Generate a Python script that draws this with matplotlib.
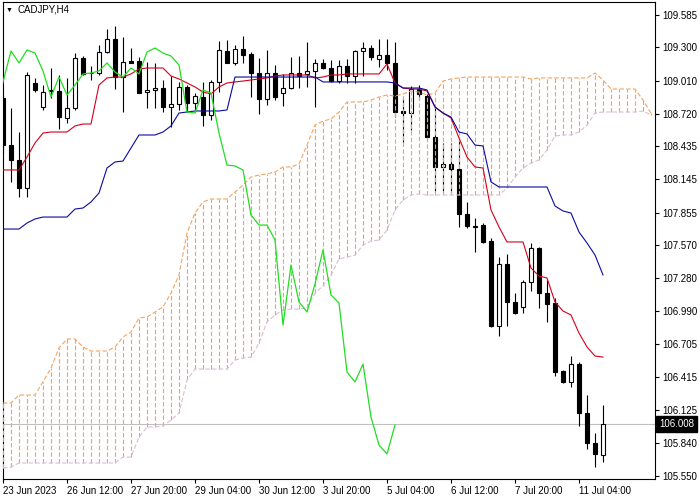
import matplotlib
matplotlib.use("Agg")
import matplotlib.pyplot as plt
import matplotlib.transforms as mtransforms
import numpy as np

plt.rcParams['font.family'] = ['Liberation Sans', 'DejaVu Sans']
plt.rcParams['lines.scale_dashes'] = False

# CADJPY H4 candles
opens = [108.858, 108.446, 108.315, 108.070, 108.989, 108.779, 108.928, 108.919, 108.683, 108.770,
         109.208, 109.076, 109.076, 109.260, 109.374, 109.041, 109.181, 109.181, 108.910, 108.928,
         108.945, 108.779, 108.805, 108.954, 108.814, 108.866, 108.709, 108.998, 109.269, 109.164,
         109.286, 109.243, 109.076, 108.849, 109.076, 108.901, 108.945, 109.076, 109.068, 109.094,
         109.164, 109.120, 109.006, 109.138, 109.050, 109.269, 109.295, 109.199, 109.234, 109.164,
         108.744, 108.726, 108.936, 108.875, 108.516, 108.254, 108.280, 108.236, 107.843, 107.738,
         107.746, 107.606, 106.863, 107.405, 107.073, 107.029, 107.248, 107.545, 107.151, 107.064,
         106.469, 106.373, 106.530, 106.101, 105.839, 105.734]
highs = [108.884, 108.770, 108.560, 109.085, 109.033, 108.971, 109.120, 109.059, 109.033, 109.251,
         109.225, 109.138, 109.321, 109.461, 109.488, 109.391, 109.295, 109.216, 109.173, 109.164,
         109.015, 109.050, 108.998, 108.971, 108.901, 108.998, 109.015, 109.356, 109.365, 109.321,
         109.400, 109.260, 109.208, 109.278, 109.146, 109.068, 109.216, 109.225, 109.348, 109.199,
         109.199, 109.190, 109.190, 109.199, 109.278, 109.348, 109.321, 109.374, 109.374, 109.348,
         108.858, 108.963, 108.971, 108.893, 108.779, 108.464, 108.464, 108.490, 107.948, 107.808,
         107.764, 107.633, 107.466, 107.493, 107.151, 107.265, 107.589, 107.554, 107.265, 107.108,
         106.478, 106.600, 106.548, 106.259, 105.926, 106.171]
lows = [108.376, 108.123, 107.991, 107.991, 108.910, 108.753, 108.858, 108.586, 108.639, 108.753,
        109.059, 109.015, 109.059, 109.251, 108.936, 108.735, 109.173, 108.901, 108.770, 108.770,
        108.735, 108.604, 108.753, 108.735, 108.735, 108.613, 108.665, 108.910, 109.164, 109.146,
        109.164, 108.866, 108.718, 108.796, 108.840, 108.788, 108.936, 108.945, 108.954, 108.779,
        109.111, 108.998, 108.989, 108.989, 108.989, 109.050, 109.190, 109.129, 109.103, 108.691,
        108.473, 108.578, 108.840, 108.508, 108.026, 108.026, 108.026, 107.729, 107.720, 107.510,
        107.589, 106.854, 106.775, 106.863, 106.968, 106.976, 107.169, 107.020, 106.898, 106.425,
        106.364, 106.329, 105.988, 105.786, 105.629, 105.673]
closes = [108.446, 108.315, 108.070, 109.059, 108.928, 108.910, 108.919, 108.691, 108.770, 109.208,
          109.068, 109.072, 109.260, 109.374, 109.041, 109.173, 109.168, 108.901, 108.928, 108.945,
          108.779, 108.805, 108.954, 108.814, 108.875, 108.709, 108.998, 109.278, 109.164, 109.286,
          109.234, 109.076, 108.849, 109.076, 108.866, 108.945, 109.076, 109.050, 109.094, 109.164,
          109.120, 109.006, 109.138, 109.050, 109.269, 109.295, 109.216, 109.234, 109.164, 108.735,
          108.726, 108.936, 108.893, 108.516, 108.254, 108.280, 108.236, 107.843, 107.738, 107.733,
          107.598, 106.863, 107.405, 107.073, 106.976, 107.248, 107.545, 107.151, 107.055, 106.460,
          106.373, 106.530, 106.101, 105.839, 105.743, 106.008]

# Ichimoku lines
tenkan = [108.228, 108.228, 108.228, 108.341, 108.464, 108.551, 108.560, 108.560, 108.560, 108.613,
          108.630, 108.630, 108.971, 109.033, 109.041, 109.041, 109.068, 109.111, 109.120, 109.120,
          109.120, 109.050, 109.024, 108.989, 108.954, 108.910, 108.893, 108.954, 108.989, 108.998,
          109.006, 109.015, 109.024, 109.033, 109.050, 109.059, 109.059, 109.059, 109.059, 109.033,
          109.041, 109.059, 109.059, 109.068, 109.068, 109.068, 109.068, 109.068, 109.155, 108.989,
          108.945, 108.936, 108.936, 108.919, 108.779, 108.726, 108.683, 108.508, 108.341, 108.254,
          108.245, 107.878, 107.729, 107.598, 107.598, 107.598, 107.370, 107.300, 107.283, 107.073,
          106.994, 106.959, 106.801, 106.679, 106.600, 106.591]
kijun = [107.711, 107.711, 107.711, 107.764, 107.799, 107.816, 107.816, 107.816, 107.816, 107.886,
         107.895, 107.948, 108.026, 108.245, 108.298, 108.306, 108.420, 108.534, 108.534, 108.534,
         108.560, 108.613, 108.726, 108.735, 108.744, 108.744, 108.744, 108.744, 108.753, 109.041,
         109.041, 109.041, 109.041, 109.041, 109.041, 109.041, 109.041, 109.041, 109.041, 109.041,
         108.998, 108.998, 108.998, 108.998, 108.998, 108.998, 108.998, 108.998, 108.998, 108.989,
         108.945, 108.945, 108.945, 108.928, 108.779, 108.726, 108.691, 108.560, 108.543, 108.446,
         108.438, 108.123, 108.079, 108.079, 108.079, 108.079, 108.079, 108.079, 108.079, 107.913,
         107.869, 107.851, 107.685, 107.589, 107.484, 107.309]
# chikou starts one bar left of the visible area
chikou = [108.709, 108.998, 109.269, 109.164, 109.278, 109.251, 109.094, 108.866, 109.041, 108.884,
          108.971, 109.068, 109.076, 109.094, 109.164, 109.085, 109.041, 109.120, 109.068, 109.260,
          109.295, 109.251, 109.225, 109.146, 108.735, 108.726, 108.928, 108.901, 108.551, 108.271,
          108.263, 108.228, 107.834, 107.746, 107.746, 107.615, 106.871, 107.396, 107.073, 106.985,
          107.230, 107.528, 107.134, 107.064, 106.460, 106.373, 106.530, 106.066, 105.821, 105.743,
          105.996]
senkou_a = [106.189, 106.189, 106.259, 106.259, 106.259, 106.373, 106.495, 106.670, 106.749, 106.749,
            106.679, 106.644, 106.644, 106.644, 106.679, 106.766, 106.810, 106.933, 106.941, 106.985,
            107.029, 107.151, 107.309, 107.676, 107.851, 107.948, 107.974, 107.974, 107.974, 108.035,
            108.096, 108.166, 108.184, 108.193, 108.210, 108.254, 108.254, 108.280, 108.446, 108.621,
            108.656, 108.674, 108.735, 108.823, 108.823, 108.823, 108.840, 108.866, 108.884, 108.875,
            108.893, 108.919, 108.910, 108.884, 108.901, 109.006, 109.024, 109.033, 109.041, 109.041,
            109.041, 109.041, 109.041, 109.041, 109.041, 109.041, 109.024, 109.033, 109.033, 109.033,
            109.033, 109.033, 109.033, 109.033, 109.076, 109.015, 108.936, 108.936, 108.936, 108.936,
            108.840, 108.726]
senkou_b = [105.620, 105.629, 105.664, 105.664, 105.664, 105.664, 105.664, 105.664, 105.664, 105.664,
            105.664, 105.664, 105.664, 105.664, 105.664, 105.716, 105.716, 105.891, 105.979, 105.979,
            105.988, 106.040, 106.101, 106.390, 106.486, 106.486, 106.486, 106.486, 106.486, 106.565,
            106.583, 106.591, 106.714, 106.898, 106.959, 107.003, 107.011, 107.011, 107.020, 107.151,
            107.213, 107.309, 107.449, 107.466, 107.484, 107.571, 107.606, 107.615, 107.703, 107.878,
            107.965, 108.009, 108.018, 108.009, 108.009, 108.009, 108.009, 108.009, 108.009, 108.009,
            108.009, 108.009, 108.009, 108.070, 108.166, 108.245, 108.289, 108.315, 108.403, 108.525,
            108.534, 108.534, 108.560, 108.621, 108.726, 108.735, 108.735, 108.735, 108.735, 108.735,
            108.744, 108.709]

last_price = 106.008
price_ticks = [109.585, 109.300, 109.010, 108.720, 108.435, 108.145, 107.855, 107.570,
               107.280, 106.990, 106.705, 106.415, 106.125, 105.840, 105.550]
time_labels = ["23 Jun 2023", "26 Jun 12:00", "27 Jun 20:00", "29 Jun 04:00", "30 Jun 12:00",
               "3 Jul 20:00", "5 Jul 04:00", "6 Jul 12:00", "7 Jul 20:00", "11 Jul 04:00"]

n = len(closes)
bars = np.arange(n)
o = np.array(opens)
c = np.array(closes)

fig = plt.figure(figsize=(7, 5), dpi=100)
ax = fig.add_axes([2.5 / 700, 21 / 500, 652.5 / 700, 477 / 500])

# current price line
ax.axhline(last_price, color='#c0c0c0', lw=0.8, zorder=1)

# candles
ax.vlines(bars, lows, highs, colors='black', lw=0.8, zorder=2)
up = c >= o
body_h = np.maximum(np.abs(c - o), 0.002)
ax.bar(bars[up], body_h[up], bottom=np.minimum(o, c)[up], width=0.6,
       facecolor='white', edgecolor='black', lw=0.8, zorder=3)
ax.bar(bars[~up], body_h[~up], bottom=np.minimum(o, c)[~up], width=0.6,
       facecolor='black', edgecolor='black', lw=0.8, zorder=3)

# kumo: dotted histogram between the spans, one dashed segment per bar
sa = np.array(senkou_a)
sb = np.array(senkou_b)
for i in range(len(sa)):
    ax.plot([i, i], [min(sa[i], sb[i]), max(sa[i], sb[i])], color='#f2a060',
            lw=0.8, dashes=(3.2, 1.6), solid_capstyle='butt', zorder=4)
ax.plot(np.arange(len(sa)), sa, color='#f4a460', lw=0.8, dashes=(3.2, 1.6), zorder=4)
ax.plot(np.arange(len(sb)), sb, color='#d8bfd8', lw=0.8, dashes=(3.2, 1.6), zorder=4)

# tenkan / kijun / chikou
ax.plot(bars, tenkan, color='#d4001a', lw=0.8, zorder=5)
ax.plot(bars, kijun, color='#0a0aa0', lw=0.8, zorder=5)
ax.plot(np.arange(-1, len(chikou) - 1), chikou, color='#22dd22', lw=0.9, zorder=5)

ax.set_xlim(-0.0625, 81.5)
ax.set_ylim(105.524, 109.6975)

ax.yaxis.tick_right()
ax.set_yticks(price_ticks)
ax.set_yticklabels(["%.3f" % v for v in price_ticks])
ax.tick_params(axis='y', direction='out', length=3, width=0.8, labelsize=7, pad=2)

ax.set_xticks(np.arange(0, 8 * len(time_labels), 8))
ax.set_xticklabels(time_labels, ha='left')
ax.tick_params(axis='x', direction='out', length=3, width=0.8, labelsize=7, pad=2)

for s in ax.spines.values():
    s.set_color('black')
    s.set_linewidth(0.8)

# last price tag
trans = mtransforms.blended_transform_factory(ax.transAxes, ax.transData)
ax.text(1.006, last_price, "%.3f" % last_price, transform=trans, ha='left', va='center',
        fontsize=7, color='white', clip_on=False,
        bbox=dict(boxstyle='square,pad=0.3', facecolor='black', edgecolor='black'))

fig.text(6 / 700, 1 - 10 / 500, u"\u25bc", fontsize=5, va='center', ha='left')
fig.text(18 / 700, 1 - 10 / 500, "CADJPY,H4", fontsize=7, va='center', ha='left')

fig.savefig("out.png", dpi=100)
